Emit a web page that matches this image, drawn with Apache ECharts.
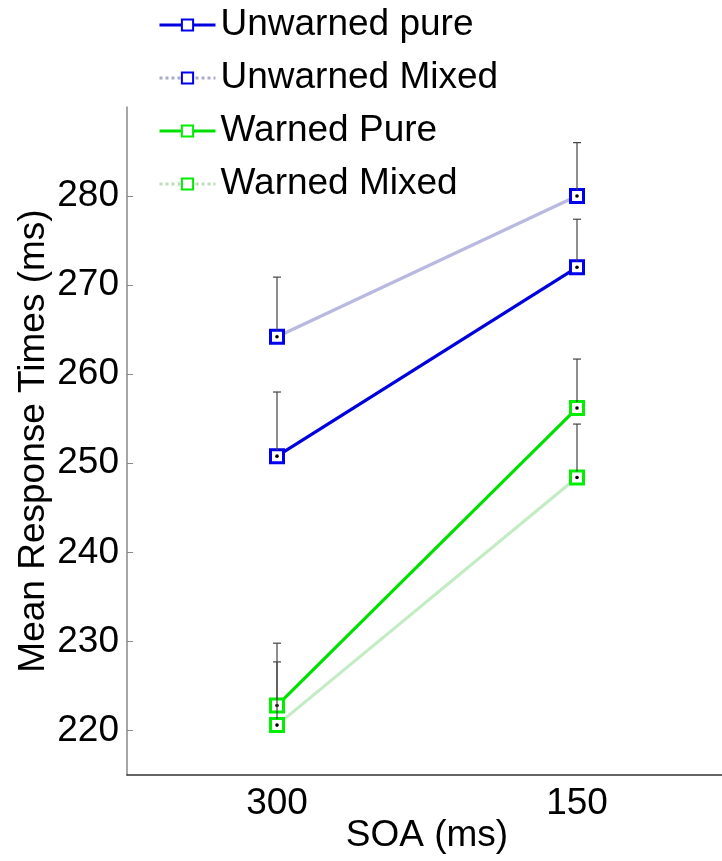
<!DOCTYPE html>
<html>
<head>
<meta charset="utf-8">
<script src="https://cdn.jsdelivr.net/npm/echarts@6/dist/echarts.min.js"></script>
<style>
  html, body { margin: 0; padding: 0; background: #fff; }
  #main { width: 722px; height: 861px; }
</style>
</head>
<body>
<div id="main"></div>
<script>
// SOA conditions on the x axis
var categories = ["300", "150"];
var yTicks = [220, 230, 240, 250, 260, 270, 280];

// mean response times (ms)
var unwarnedPure = [250.8, 272.0];
var unwarnedMixed = [264.2, 280.0];
var warnedPure = [222.8, 256.2];
var warnedMixed = [220.6, 248.4];

// upper error bar length (ms)
var unwarnedPureErr = [7.2, 5.4];
var unwarnedMixedErr = [6.7, 6.0];
var warnedPureErr = [7.0, 5.5];
var warnedMixedErr = [7.1, 6.0];

var font = "Liberation Sans, Arial, sans-serif";

function errData(vals, errs) {
  return vals.map(function (v, i) { return [i, v, v + errs[i]]; });
}

function lineSeries(name, data, lineColor, markColor) {
  return {
    name: name,
    type: "line",
    data: data,
    z: 2,
    symbol: "rect",
    symbolSize: 13,
    lineStyle: { color: lineColor, width: 3.2 },
    itemStyle: { color: "#fff", borderColor: markColor, borderWidth: 3 },
    emphasis: { disabled: true },
    animation: false
  };
}

function errSeries(data) {
  return {
    type: "custom",
    data: data,
    z: 5,
    silent: true,
    animation: false,
    renderItem: function (params, api) {
      var p = api.coord([api.value(0), api.value(1)]);
      var t = api.coord([api.value(0), api.value(2)]);
      return {
        type: "group",
        children: [
          { type: "line", shape: { x1: p[0], y1: p[1] - 6, x2: t[0], y2: t[1] },
            style: { stroke: "#444", lineWidth: 1.2 } },
          { type: "line", shape: { x1: t[0] - 4, y1: t[1], x2: t[0] + 4, y2: t[1] },
            style: { stroke: "#444", lineWidth: 1.2 } },
          { type: "circle", shape: { cx: p[0], cy: p[1], r: 1.8 },
            style: { fill: "#000" } }
        ]
      };
    }
  };
}

var chart = echarts.init(document.getElementById("main"));
chart.setOption({
  animation: false,
  textStyle: { fontFamily: font },
  grid: { left: 127, top: 107, width: 600, bottom: 86, outerBoundsMode: "none", containLabel: false },
  legend: {
    orient: "vertical",
    left: 153,
    top: 0,
    itemWidth: 56,
    itemHeight: 14,
    itemGap: 13,
    lineStyle: { width: 3 },
    textStyle: { fontSize: 37, color: "#000", fontFamily: font, lineHeight: 40 },
    data: [
      { name: "Unwarned pure" },
      { name: "Unwarned Mixed", lineStyle: { type: "dotted", color: "#aaaacc", width: 3 } },
      { name: "Warned Pure" },
      { name: "Warned Mixed", lineStyle: { type: "dotted", color: "#bbddbb", width: 3 } }
    ]
  },
  xAxis: {
    type: "category",
    data: categories,
    boundaryGap: true,
    name: "SOA (ms)",
    nameLocation: "middle",
    nameGap: 42,
    nameMoveOverlap: false,
    nameTextStyle: { fontSize: 37, color: "#000", fontFamily: font },
    axisLine: { lineStyle: { color: "#333", width: 1.5 } },
    axisTick: { inside: true, alignWithLabel: true, length: 6, lineStyle: { color: "#333" } },
    axisLabel: { fontSize: 37, color: "#000", margin: 10, fontFamily: font },
    splitLine: { show: false }
  },
  yAxis: {
    type: "value",
    min: 215,
    max: 290,
    name: "Mean Response Times (ms)",
    nameLocation: "middle",
    nameGap: 75,
    nameMoveOverlap: false,
    nameTextStyle: { fontSize: 37, color: "#000", fontFamily: font },
    axisLine: { show: true, lineStyle: { color: "#888", width: 1.5 } },
    axisTick: { show: true, inside: true, length: 6, customValues: yTicks, lineStyle: { color: "#888" } },
    axisLabel: { fontSize: 37, color: "#000", margin: 8, customValues: yTicks, fontFamily: font },
    splitLine: { show: false }
  },
  series: [
    lineSeries("Unwarned pure", unwarnedPure, "#0000dd", "#0000ee"),
    lineSeries("Unwarned Mixed", unwarnedMixed, "#b8b8e0", "#0000ee"),
    lineSeries("Warned Pure", warnedPure, "#00e000", "#00ee00"),
    lineSeries("Warned Mixed", warnedMixed, "#c4ecc4", "#00ee00"),
    errSeries(errData(unwarnedPure, unwarnedPureErr)),
    errSeries(errData(unwarnedMixed, unwarnedMixedErr)),
    errSeries(errData(warnedPure, warnedPureErr)),
    errSeries(errData(warnedMixed, warnedMixedErr))
  ]
});
</script>
</body>
</html>
